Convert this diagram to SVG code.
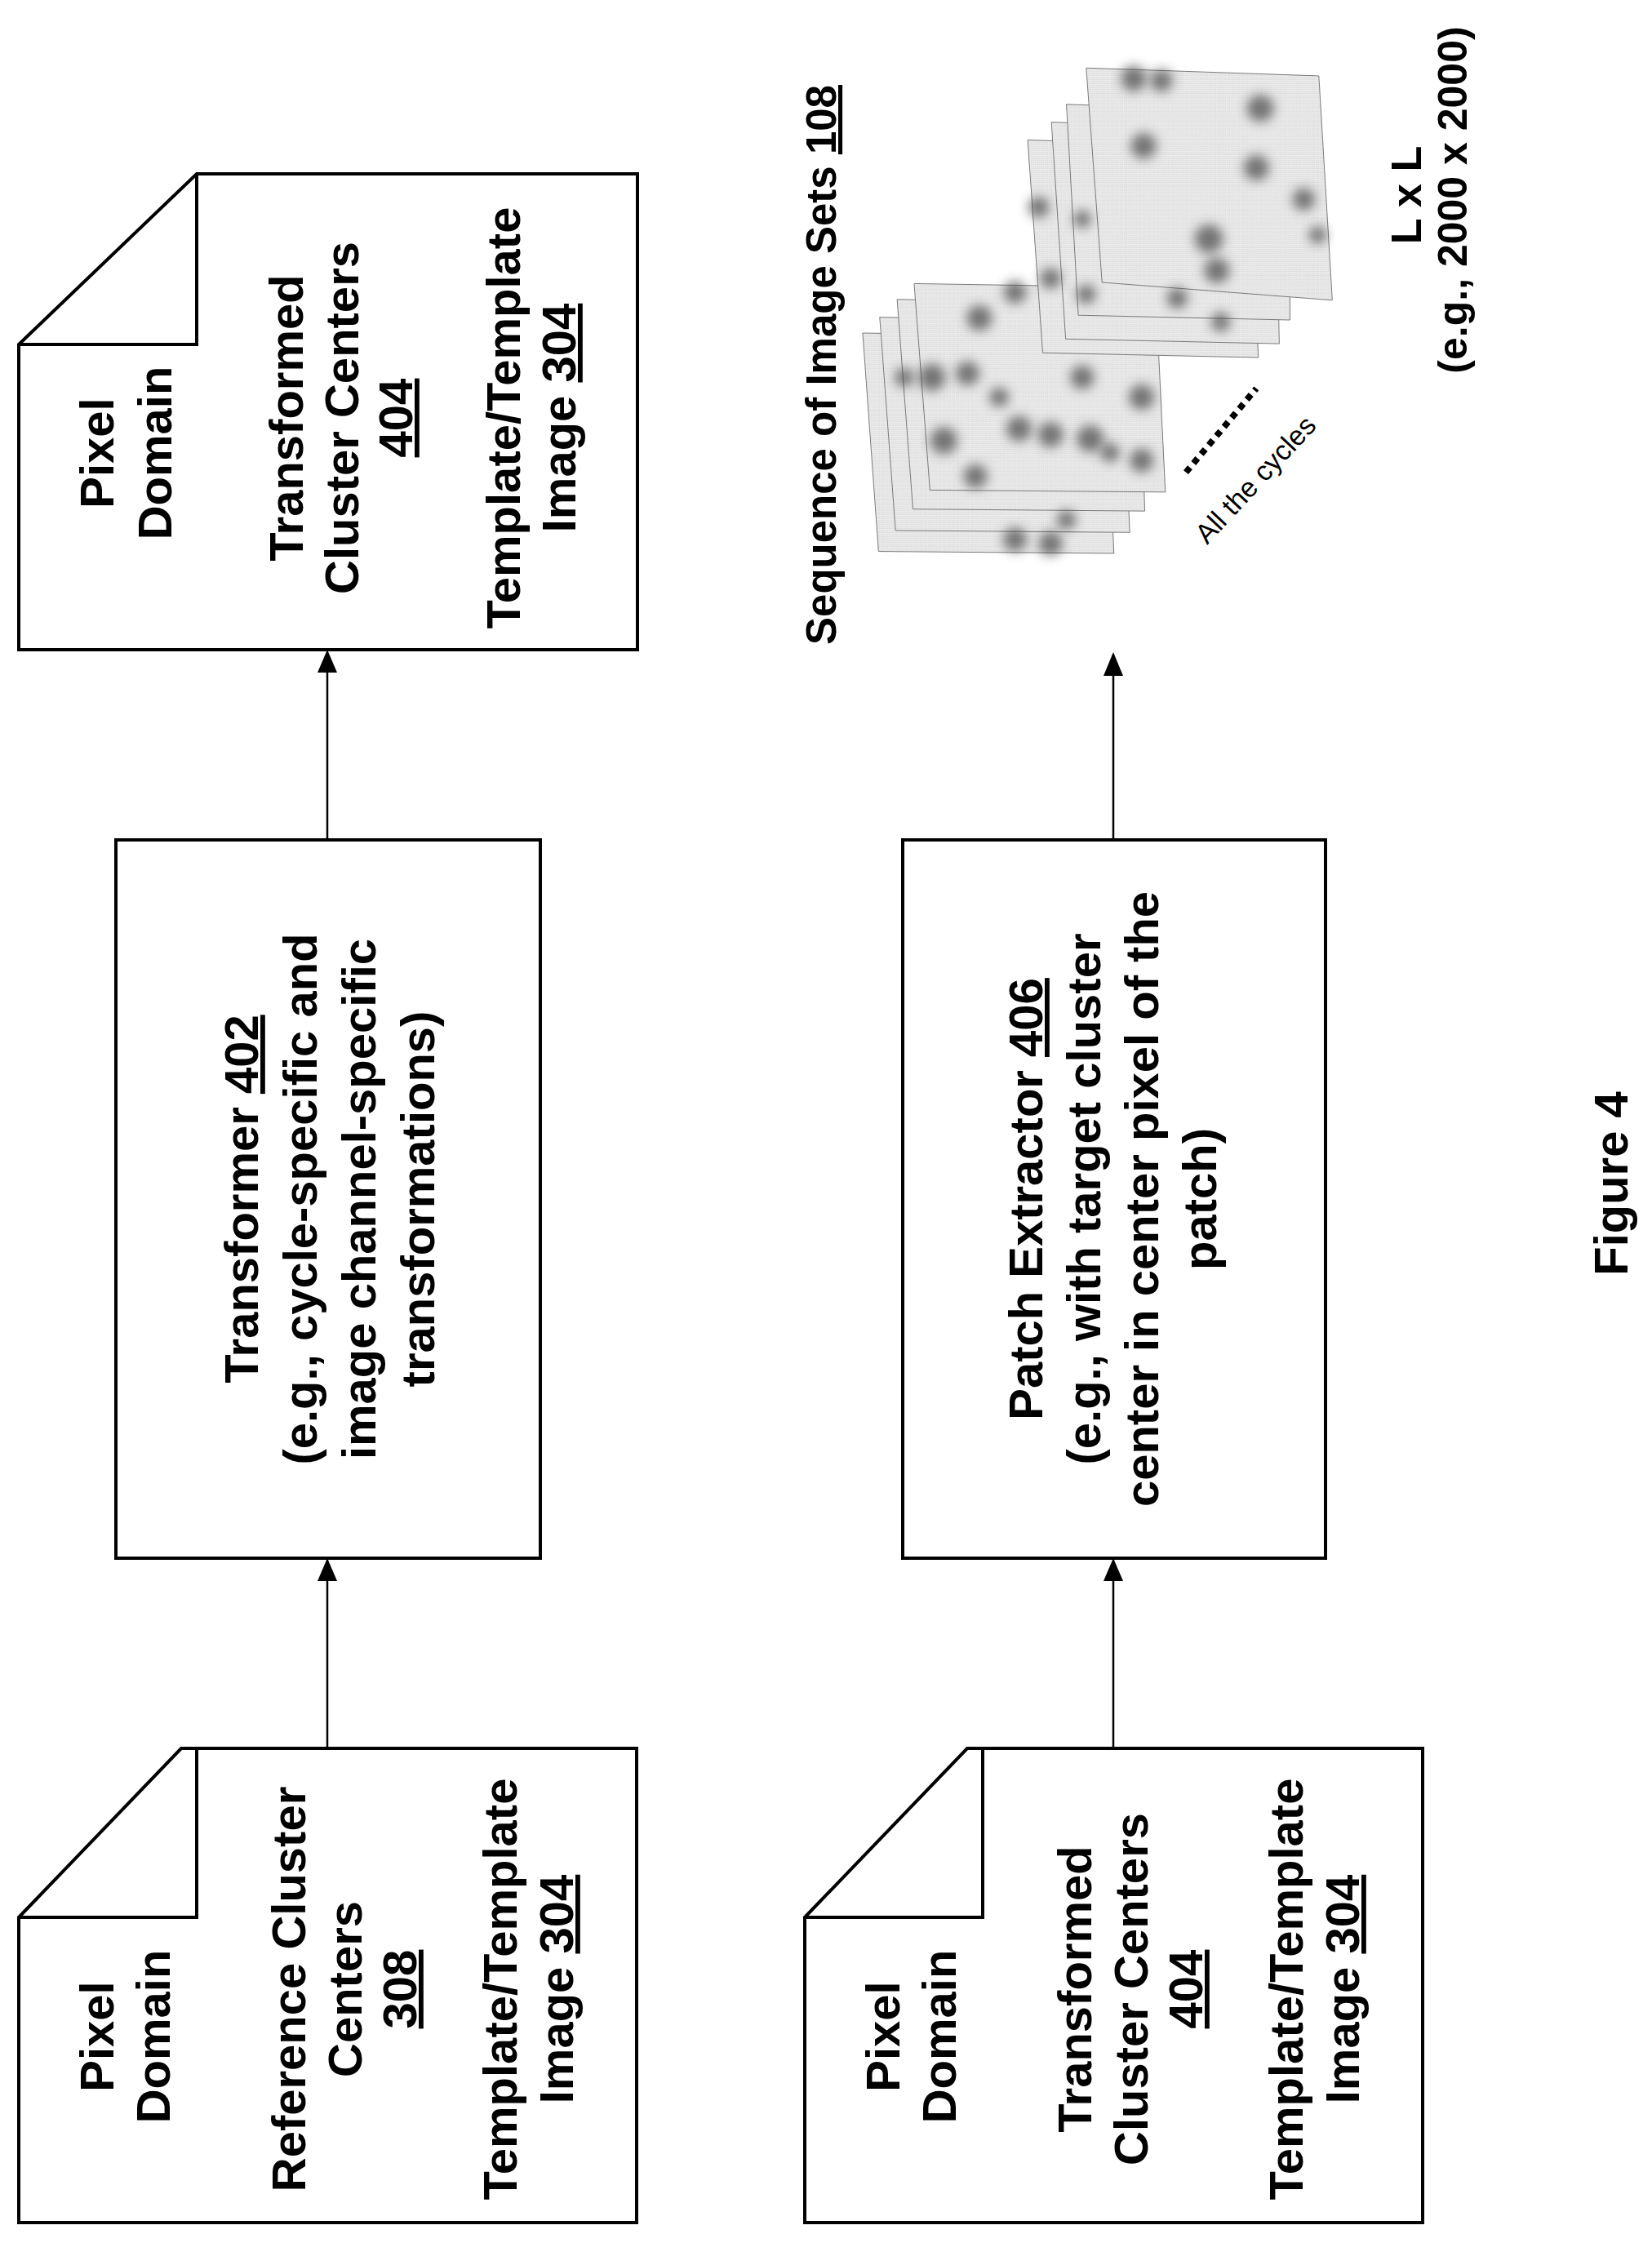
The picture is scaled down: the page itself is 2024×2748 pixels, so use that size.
<svg xmlns="http://www.w3.org/2000/svg" width="2024" height="2748" viewBox="0 0 2024 2748">
<style>
.box{fill:#fff;stroke:#000;stroke-width:4}
.fold{fill:none;stroke:#000;stroke-width:4}
.t{font-family:"Liberation Sans",Arial,sans-serif;font-weight:bold;font-size:58px;fill:#000;text-anchor:middle}
.u{text-decoration:underline}
.cn{stroke:#000;stroke-width:2.5;fill:none}
.sheet{fill:url(#dots);stroke:#777;stroke-width:2}
.blob{fill:#444;opacity:0.7;filter:url(#bl)}
</style>
<defs>
<pattern id="dots" width="5" height="5" patternUnits="userSpaceOnUse">
<rect width="5" height="5" fill="#f0f0f0"/>
<rect x="1" y="1" width="1.5" height="1.5" fill="#999"/>
<rect x="3.5" y="3" width="1" height="1" fill="#bbb"/>
</pattern>
<filter id="bl" x="-50%" y="-50%" width="200%" height="200%"><feGaussianBlur stdDeviation="14"/></filter>
</defs>
<rect width="2024" height="2748" fill="#fff"/>

<g id="connectors">
<line class="cn" x1="401" y1="1029" x2="401" y2="800"/><path d="M389,824 L401,796 L413,824 Z"/>
<line class="cn" x1="401" y1="2142" x2="401" y2="1912"/><path d="M389,1937 L401,1909 L413,1937 Z"/>
<line class="cn" x1="1364" y1="2142" x2="1364" y2="1912"/><path d="M1352,1937 L1364,1909 L1376,1937 Z"/>
<line class="cn" x1="1364" y1="1029" x2="1364" y2="802"/><path d="M1352,828 L1364,799 L1376,828 Z"/>
</g>

<g id="doc-transformed-top">
<path class="box" d="M23,422 L241,213 L781,213 L781,796 L23,796 Z"/>
<path class="fold" d="M241,213 L241,422 L23,422"/>
<text class="t" transform="translate(139,555) rotate(-90)">Pixel</text>
<text class="t" transform="translate(210,555) rotate(-90)">Domain</text>
<text class="t" transform="translate(371,512) rotate(-90)">Transformed</text>
<text class="t" transform="translate(439,512) rotate(-90)">Cluster Centers</text>
<text class="t" transform="translate(505,512) rotate(-90)"><tspan class="u">404</tspan></text>
<text class="t" transform="translate(637,512) rotate(-90)">Template/Template</text>
<text class="t" transform="translate(705,512) rotate(-90)">Image <tspan class="u">304</tspan></text>
</g>

<g id="transformer">
<rect class="box" x="142" y="1029" width="520" height="880"/>
<text class="t" transform="translate(316,1469) rotate(-90)">Transformer <tspan class="u">402</tspan></text>
<text class="t" transform="translate(388,1469) rotate(-90)">(e.g., cycle-specific and</text>
<text class="t" transform="translate(460,1469) rotate(-90)">image channel-specific</text>
<text class="t" transform="translate(532,1469) rotate(-90)">transformations)</text>
</g>

<g id="doc-reference">
<path class="box" d="M23,2349 L222,2142 L780,2142 L780,2723 L23,2723 Z"/>
<path class="fold" d="M241,2142 L241,2349 L23,2349"/>
<text class="t" transform="translate(139,2495) rotate(-90)">Pixel</text>
<text class="t" transform="translate(208,2495) rotate(-90)">Domain</text>
<text class="t" transform="translate(374,2437) rotate(-90)">Reference Cluster</text>
<text class="t" transform="translate(443,2437) rotate(-90)">Centers</text>
<text class="t" transform="translate(510,2437) rotate(-90)"><tspan class="u">308</tspan></text>
<text class="t" transform="translate(633,2437) rotate(-90)">Template/Template</text>
<text class="t" transform="translate(702,2437) rotate(-90)">Image <tspan class="u">304</tspan></text>
</g>

<g id="patch-extractor">
<rect class="box" x="1106" y="1029" width="518" height="880"/>
<text class="t" transform="translate(1277,1469) rotate(-90)">Patch Extractor <tspan class="u">406</tspan></text>
<text class="t" transform="translate(1348,1469) rotate(-90)">(e.g., with target cluster</text>
<text class="t" transform="translate(1419,1469) rotate(-90)">center in center pixel of the</text>
<text class="t" transform="translate(1490,1469) rotate(-90)">patch)</text>
</g>

<g id="doc-transformed-bottom">
<path class="box" d="M986,2349 L1185,2142 L1743,2142 L1743,2723 L986,2723 Z"/>
<path class="fold" d="M1204,2142 L1204,2349 L986,2349"/>
<text class="t" transform="translate(1102,2495) rotate(-90)">Pixel</text>
<text class="t" transform="translate(1171,2495) rotate(-90)">Domain</text>
<text class="t" transform="translate(1337,2437) rotate(-90)">Transformed</text>
<text class="t" transform="translate(1406,2437) rotate(-90)">Cluster Centers</text>
<text class="t" transform="translate(1473,2437) rotate(-90)"><tspan class="u">404</tspan></text>
<text class="t" transform="translate(1596,2437) rotate(-90)">Template/Template</text>
<text class="t" transform="translate(1665,2437) rotate(-90)">Image <tspan class="u">304</tspan></text>
</g>

<g id="image-sets">
<g transform="translate(1040,60) scale(0.4847)">
<path class="sheet" d="M35,718 l610,10 l25,547 l-595,-5 Z"/>
<path class="sheet" d="M78,678 l610,10 l22,534 l-592,-5 Z"/>
<path class="sheet" d="M122,633 l610,10 l16,525 l-586,-5 Z"/>
<path class="sheet" d="M165,593 l610,10 l25,517 l-595,-5 Z"/>
<circle class="blob" cx="210" cy="830" r="34"/><circle class="blob" cx="300" cy="820" r="30"/>
<circle class="blob" cx="240" cy="990" r="34"/><circle class="blob" cx="320" cy="1080" r="30"/>
<circle class="blob" cx="430" cy="960" r="32"/><circle class="blob" cx="510" cy="975" r="32"/>
<circle class="blob" cx="610" cy="985" r="34"/><circle class="blob" cx="740" cy="880" r="32"/>
<circle class="blob" cx="590" cy="830" r="30"/><circle class="blob" cx="420" cy="615" r="28"/>
<circle class="blob" cx="330" cy="680" r="32"/><circle class="blob" cx="740" cy="1040" r="30"/>
<circle class="blob" cx="660" cy="1020" r="24"/><circle class="blob" cx="380" cy="880" r="24"/>
<circle class="blob" cx="420" cy="1240" r="30"/><circle class="blob" cx="510" cy="1250" r="30"/>
<circle class="blob" cx="550" cy="1190" r="24"/><circle class="blob" cx="140" cy="830" r="24"/>
<path class="sheet" d="M452,230 l560,18 l23,532 l-545,-12 Z"/>
<path class="sheet" d="M512,185 l565,18 l11,542 l-540,-12 Z"/>
<path class="sheet" d="M550,140 l565,18 l0,527 l-535,-12 Z"/>
<path class="sheet" d="M600,48 l588,20 l34,567 l-582,-45 Z"/>
<circle class="blob" cx="480" cy="400" r="26"/><circle class="blob" cx="510" cy="580" r="26"/>
<circle class="blob" cx="590" cy="430" r="22"/><circle class="blob" cx="600" cy="620" r="24"/>
<circle class="blob" cx="830" cy="630" r="26"/><circle class="blob" cx="940" cy="690" r="24"/>
<circle class="blob" cx="720" cy="75" r="32"/><circle class="blob" cx="790" cy="80" r="28"/>
<circle class="blob" cx="1040" cy="150" r="34"/><circle class="blob" cx="745" cy="245" r="32"/>
<circle class="blob" cx="1030" cy="300" r="32"/><circle class="blob" cx="1150" cy="380" r="28"/>
<circle class="blob" cx="910" cy="480" r="36"/><circle class="blob" cx="930" cy="560" r="32"/>
<circle class="blob" cx="1185" cy="470" r="22"/>
<line x1="852" y1="1070" x2="1030" y2="858" stroke="#000" stroke-width="16" stroke-dasharray="16 14"/>
</g>
<text transform="translate(1479,668) rotate(-47)" font-family="'Liberation Sans',Arial,sans-serif" font-size="34" fill="#000">All the cycles</text>
<text class="t" style="font-size:51px" transform="translate(1024,447) rotate(-90)">Sequence of Image Sets <tspan class="u">108</tspan></text>
<text class="t" style="font-size:52px" transform="translate(1741,239) rotate(-90)">L x L</text>
<text class="t" style="font-size:50px" transform="translate(1797,245) rotate(-90)">(e.g., 2000 x 2000)</text>
</g>

<g id="caption">
<text class="t" transform="translate(1994,1450) rotate(-90)">Figure 4</text>
</g>
</svg>
